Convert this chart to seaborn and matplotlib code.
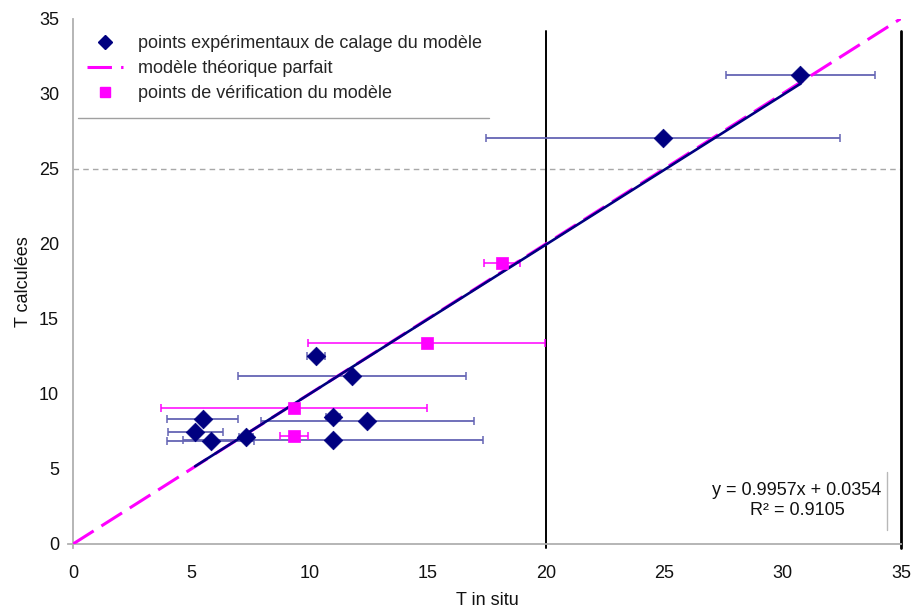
import matplotlib
matplotlib.use("Agg")
import matplotlib.pyplot as plt
import seaborn as sns
import pandas as pd
from matplotlib.lines import Line2D

# Calibration points: measured T (x), computed T (y), half-width of x error bar
calage_x = [30.75, 24.95, 10.27, 11.79, 5.48, 5.16, 5.82, 7.30, 11.00, 11.00, 12.44]
calage_y = [31.25, 27.07, 12.52, 11.21, 8.31, 7.48, 6.86, 7.15, 6.93, 8.44, 8.21]
calage_err = [3.16, 7.49, 0.39, 4.81, 1.51, 1.16, 1.84, 0.30, 6.34, 0.30, 4.50]

# Verification points
verif_x = [14.95, 9.35, 9.35, 18.14]
verif_y = [13.37, 9.08, 7.20, 18.70]
verif_err = [5.00, 5.63, 0.60, 0.77]

# Linear trendline of the calibration points
slope = 0.9957
intercept = 0.0354
r_squared = 0.9105

axis_ticks = [0, 5, 10, 15, 20, 25, 30, 35]
legend_labels = [
    "points expérimentaux de calage du modèle",
    "modèle théorique parfait",
    "points de vérification du modèle",
]

NAVY = "#000080"
MAGENTA = "#FF00FF"
BAR_BLUE = "#6464b4"

sns.set_theme(style="white")
plt.rcParams["font.family"] = ["Liberation Sans", "DejaVu Sans"]
plt.rcParams["font.size"] = 13

fig = plt.figure(figsize=(9.13, 6.12), dpi=100)
ax = fig.add_axes([73 / 913, 1 - 544 / 612, 828 / 913, 525.5 / 612])
ax.set_xlim(0, 35)
ax.set_ylim(0, 35)

calage = pd.DataFrame({"x": calage_x, "y": calage_y, "err": calage_err})
verif = pd.DataFrame({"x": verif_x, "y": verif_y, "err": verif_err})

# Reference lines
ax.axhline(25, color="#a8a8a8", lw=1, ls=(0, (4, 3)), zorder=1)
ax.plot([20, 20], [-0.25, 34.2], color="black", lw=1.4, zorder=2, clip_on=False)
ax.plot([35, 35], [-0.25, 34.2], color="black", lw=2.0, zorder=2, clip_on=False)

# Horizontal error bars
ax.errorbar(calage["x"], calage["y"], xerr=calage["err"], fmt="none",
            ecolor=BAR_BLUE, elinewidth=1.3, capsize=3, capthick=1.1, zorder=3)
ax.errorbar(verif["x"], verif["y"], xerr=verif["err"], fmt="none",
            ecolor=MAGENTA, elinewidth=1.1, capsize=3, capthick=1.1, zorder=3)

# Perfect model y = x
perfect = pd.DataFrame({"x": [0, 35], "y": [0, 35]})
sns.lineplot(data=perfect, x="x", y="y", ax=ax, color=MAGENTA, lw=2.2,
             linestyle=(0, (8, 3)), zorder=4)

# Trendline over the range of calibration points
tx = [min(calage_x), max(calage_x)]
trend = pd.DataFrame({"x": tx, "y": [slope * v + intercept for v in tx]})
sns.lineplot(data=trend, x="x", y="y", ax=ax, color=NAVY, lw=1.9, zorder=5)

# Points
sns.scatterplot(data=calage, x="x", y="y", ax=ax, marker="D", s=90,
                color=NAVY, edgecolor=NAVY, linewidth=0.5, zorder=6)
sns.scatterplot(data=verif, x="x", y="y", ax=ax, marker="s", s=65,
                color=MAGENTA, edgecolor=MAGENTA, linewidth=0.5, zorder=6)

# Equation box
ax.text(30.6, 2.9, f"y = {slope:.4f}x + {intercept:.4f}\nR² = {r_squared:.4f}",
        ha="center", va="center", multialignment="center",
        fontsize=13, color="#111111", linespacing=1.3)
ax.plot([34.4, 34.4], [0.93, 4.8], color="#b8b8b8", lw=1)

# Axes styling
ax.set_xticks(axis_ticks)
ax.set_yticks(axis_ticks)
ax.tick_params(axis="both", length=0, labelsize=13, colors="#111111")
ax.tick_params(axis="x", pad=15)
ax.tick_params(axis="y", pad=10)
for side in ("top", "right"):
    ax.spines[side].set_visible(False)
for side in ("left", "bottom"):
    ax.spines[side].set_color("#b0b0b0")
    ax.spines[side].set_linewidth(1.3)
ax.spines["bottom"].set_bounds(-0.22, 35)
ax.spines["left"].set_bounds(-0.27, 35)

ax.set_xlabel("T in situ", fontsize=13, color="#111111", labelpad=7)
ax.set_ylabel("T calculées", fontsize=13, color="#111111", labelpad=5)

# Legend
handles = [
    Line2D([], [], marker="D", color=NAVY, ls="none", ms=7),
    Line2D([], [], color=MAGENTA, lw=2.2, ls=(0, (8, 3))),
    Line2D([], [], marker="s", color=MAGENTA, ls="none", ms=7),
]
ax.legend(handles, legend_labels, loc="upper left", frameon=False,
          bbox_to_anchor=(80 / 913, 1 - 28 / 612), bbox_transform=fig.transFigure,
          fontsize=13, handlelength=2.0, handletextpad=0.8, labelspacing=0.45,
          borderaxespad=0)
ax.plot([0.2, 17.6], [28.38, 28.38], color="#a0a0a0", lw=1, zorder=2)

fig.savefig("out.png", dpi=100)
